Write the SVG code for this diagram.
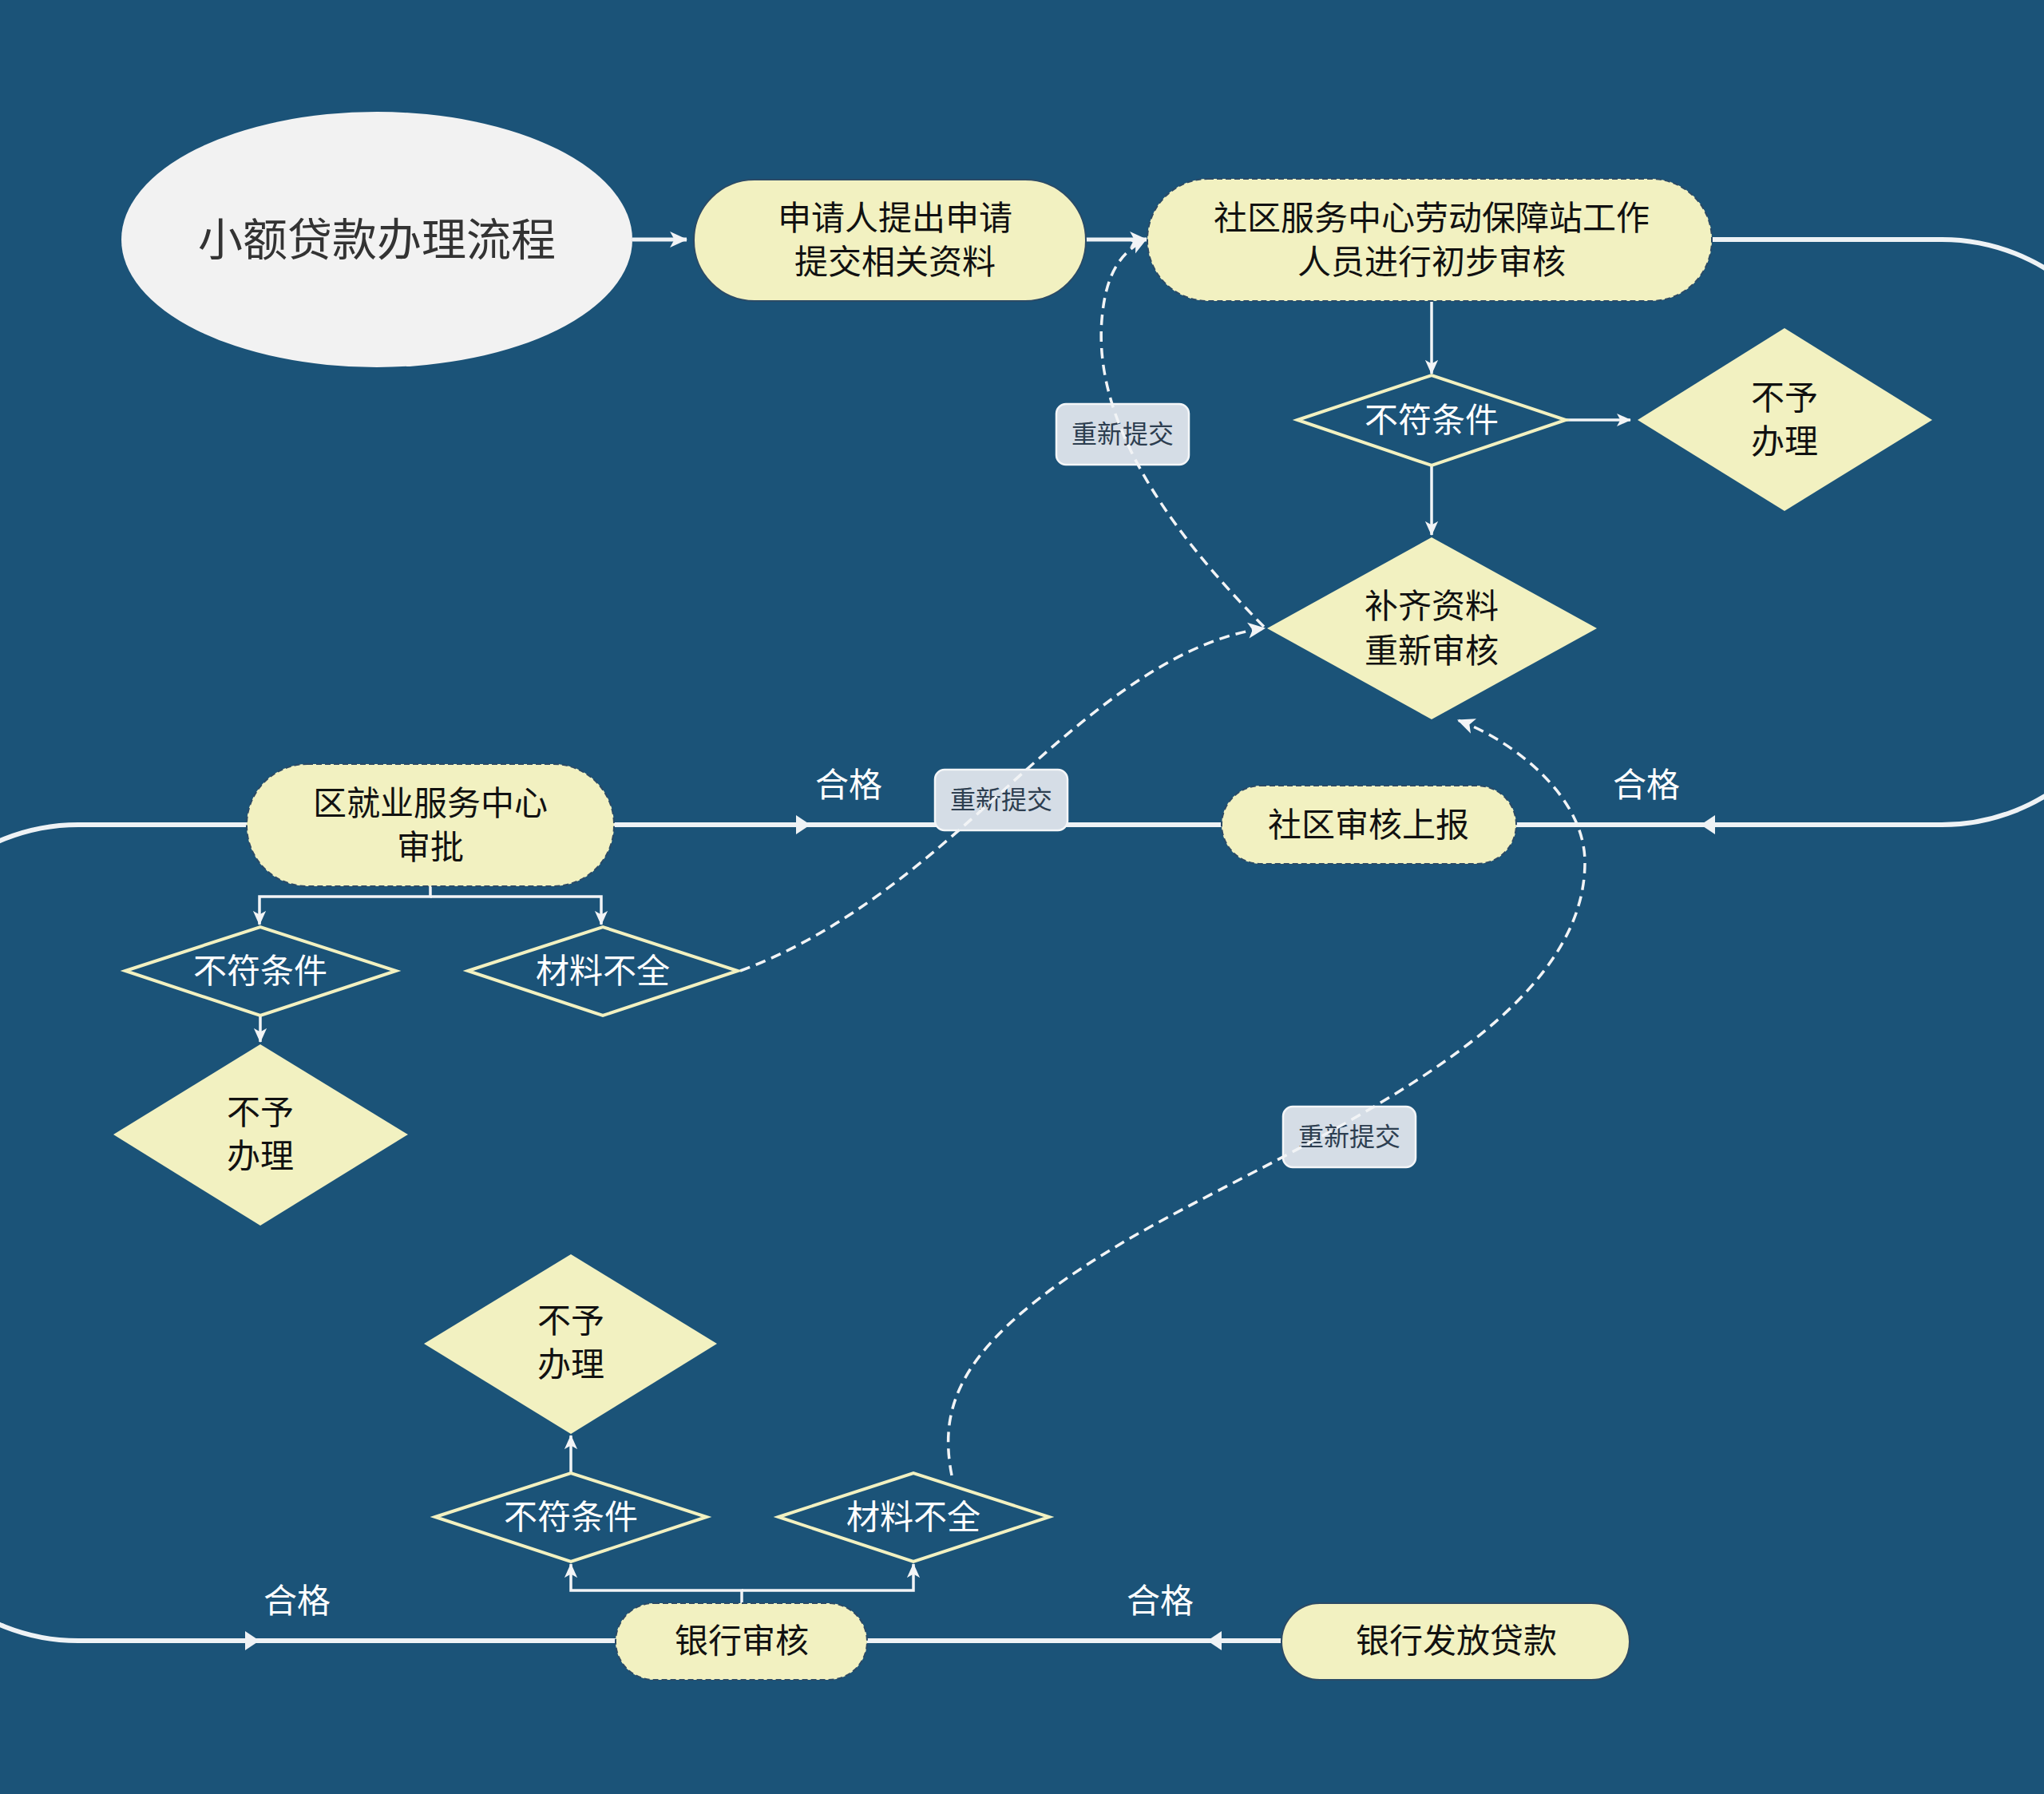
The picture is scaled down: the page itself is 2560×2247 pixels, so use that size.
<svg xmlns="http://www.w3.org/2000/svg" width="2560" height="2247" viewBox="0 0 2560 2247">
<defs>
<style>
.t{font-family:"Noto Sans CJK SC","Noto Sans",sans-serif;text-anchor:middle}
.dk{fill:#111;font-size:42px}
.wt{fill:#ffffff;font-size:42px}
.lb{fill:#2d3e50;font-size:32px}
.node{fill:#f2f1c1;stroke:#2b4a66;stroke-width:2}
.dash{stroke-dasharray:7 4}
.dia{fill:none;stroke:#f2f1c1;stroke-width:4}
.dfill{fill:#f2f1c1}
.main{fill:none;stroke:#eef2f5;stroke-width:6}
.thin{fill:none;stroke:#f2f4f6;stroke-width:3.5}
.dsh{fill:none;stroke:#f2f4f6;stroke-width:3.5;stroke-dasharray:13 8}
.lab{fill:#d5dde6;stroke:#f4f6f8;stroke-width:2.5}
.ah{fill:#eef2f5}
</style>
<marker id="arr" viewBox="0 0 20 20" refX="19" refY="10" markerWidth="18" markerHeight="18" markerUnits="userSpaceOnUse" orient="auto">
<path d="M0,1 L20,10 L0,19 L5,10 z" fill="#f2f4f6"/>
</marker>
<marker id="arr2" viewBox="0 0 20 20" refX="19" refY="10" markerWidth="22" markerHeight="22" markerUnits="userSpaceOnUse" orient="auto">
<path d="M0,1 L20,10 L0,19 L5,10 z" fill="#f2f4f6"/>
</marker>
</defs>
<rect x="0" y="0" width="2560" height="2247" fill="#1b5378"/>

<g id="connectors">
<path class="main" d="M 2144 300 H 2432 A 250 250 0 0 1 2682 550 V 783 A 250 250 0 0 1 2432 1033 H 1899"/>
<path class="main" d="M 1530 1033 H 769"/>
<path class="main" d="M 309 1033 H 98 A 250 250 0 0 0 -152 1283 V 1805 A 250 250 0 0 0 98 2055 H 771"/>
<path class="main" d="M 1086 2055 H 1605"/>
<polygon class="ah" points="997,1021 1015,1033 997,1045"/>
<polygon class="ah" points="307,2043 325,2055 307,2067"/>
<polygon class="ah" points="1530,2043 1512,2055 1530,2067"/>
<polygon class="ah" points="2148,1021 2130,1033 2148,1045"/>
<path class="main" d="M 792 300 H 860" marker-end="url(#arr2)" style="stroke-width:5"/>
<path class="main" d="M 1360 300 H 1436" marker-end="url(#arr2)" style="stroke-width:5"/>
<path class="thin" d="M 1793 377 V 468" marker-end="url(#arr)"/>
<path class="thin" d="M 1961 526 H 2042" marker-end="url(#arr)"/>
<path class="thin" d="M 1793 583 V 670" marker-end="url(#arr)"/>
<path class="thin" d="M 539 1110 V 1123 H 325 V 1158" marker-end="url(#arr)"/>
<path class="thin" d="M 539 1123 H 753 V 1158" marker-end="url(#arr)"/>
<path class="thin" d="M 326 1272 V 1305" marker-end="url(#arr)"/>
<path class="thin" d="M 929 2008 V 1992 H 715 V 1959" marker-end="url(#arr)"/>
<path class="thin" d="M 929 1992 H 1144 V 1959" marker-end="url(#arr)"/>
<path class="thin" d="M 715 1845 V 1798" marker-end="url(#arr)"/>
</g>

<g id="labels">
<rect class="lab" x="1323" y="506" width="166" height="76" rx="12"/>
<text class="t lb" x="1406" y="555">重新提交</text>
<rect class="lab" x="1171" y="964" width="166" height="76" rx="12"/>
<text class="t lb" x="1254" y="1013">重新提交</text>
<rect class="lab" x="1607" y="1386" width="166" height="76" rx="12"/>
<text class="t lb" x="1690" y="1435">重新提交</text>
<text class="t wt" x="1063" y="998">合格</text>
<text class="t wt" x="2062" y="998">合格</text>
<text class="t wt" x="372" y="2020">合格</text>
<text class="t wt" x="1453" y="2020">合格</text>
</g>

<g id="dashed-connectors">
<path class="dsh" d="M 1583 785 C 1450 650, 1370 520, 1380 400 C 1385 340, 1405 315, 1436 299" marker-end="url(#arr2)"/>
<path class="dsh" d="M 927 1216 C 1080 1160, 1200 1040, 1290 960 S 1480 800, 1584 787" marker-end="url(#arr2)"/>
<path class="dsh" d="M 1192 1848 C 1175 1760, 1200 1680, 1400 1560 S 1985 1300, 1985 1080 C 1985 1000, 1900 930, 1826 902" marker-end="url(#arr2)"/>
</g>

<g id="title">
<ellipse cx="472" cy="300" rx="320" ry="160" fill="#f2f2f2"/>
<text class="t" x="472" y="320" style="font-size:56px;fill:#333">小额贷款办理流程</text>
</g>

<g id="n-apply">
<rect class="node" x="869" y="225" width="491" height="152" rx="76"/>
<text class="t dk" x="1121" y="288">申请人提出申请</text>
<text class="t dk" x="1121" y="343">提交相关资料</text>
</g>

<g id="n-community">
<rect class="node dash" x="1437" y="224" width="707" height="153" rx="76"/>
<text class="t dk" x="1793" y="288">社区服务中心劳动保障站工作</text>
<text class="t dk" x="1793" y="343">人员进行初步审核</text>
</g>

<g id="d-nofit1">
<polygon class="dia" points="1625,526 1793,470 1961,526 1793,583"/>
<text class="t wt" x="1793" y="541">不符条件</text>
</g>

<g id="d-reject1">
<polygon class="dfill" points="2051,526 2235,411 2420,526 2235,640"/>
<text class="t dk" x="2235" y="513">不予</text>
<text class="t dk" x="2235" y="568">办理</text>
</g>

<g id="d-resupply">
<polygon class="dfill" points="1587,787 1793,673 2000,787 1793,901"/>
<text class="t dk" x="1793" y="774">补齐资料</text>
<text class="t dk" x="1793" y="830">重新审核</text>
</g>

<g id="n-report">
<rect class="node dash" x="1530" y="984" width="369" height="98" rx="49"/>
<text class="t dk" x="1714" y="1048">社区审核上报</text>
</g>

<g id="n-district">
<rect class="node dash" x="309" y="957" width="460" height="153" rx="76"/>
<text class="t dk" x="539" y="1021">区就业服务中心</text>
<text class="t dk" x="539" y="1076">审批</text>
</g>

<g id="d-nofit2">
<polygon class="dia" points="157,1216 326,1161 496,1216 326,1272"/>
<text class="t wt" x="326" y="1231">不符条件</text>
</g>

<g id="d-missing2">
<polygon class="dia" points="586,1216 755,1161 924,1216 755,1272"/>
<text class="t wt" x="755" y="1231">材料不全</text>
</g>

<g id="d-reject2">
<polygon class="dfill" points="142,1421 326,1308 511,1421 326,1535"/>
<text class="t dk" x="326" y="1408">不予</text>
<text class="t dk" x="326" y="1463">办理</text>
</g>

<g id="d-reject3">
<polygon class="dfill" points="531,1683 715,1571 898,1683 715,1796"/>
<text class="t dk" x="715" y="1669">不予</text>
<text class="t dk" x="715" y="1724">办理</text>
</g>

<g id="d-nofit3">
<polygon class="dia" points="545,1900 715,1845 885,1900 715,1956"/>
<text class="t wt" x="715" y="1915">不符条件</text>
</g>

<g id="d-missing3">
<polygon class="dia" points="975,1900 1144,1845 1314,1900 1144,1956"/>
<text class="t wt" x="1144" y="1915">材料不全</text>
</g>

<g id="n-bank">
<rect class="node dash" x="771" y="2008" width="315" height="96" rx="48"/>
<text class="t dk" x="929" y="2070">银行审核</text>
</g>

<g id="n-loan">
<rect class="node" x="1605" y="2008" width="436" height="96" rx="48"/>
<text class="t dk" x="1824" y="2070">银行发放贷款</text>
</g>
</svg>
